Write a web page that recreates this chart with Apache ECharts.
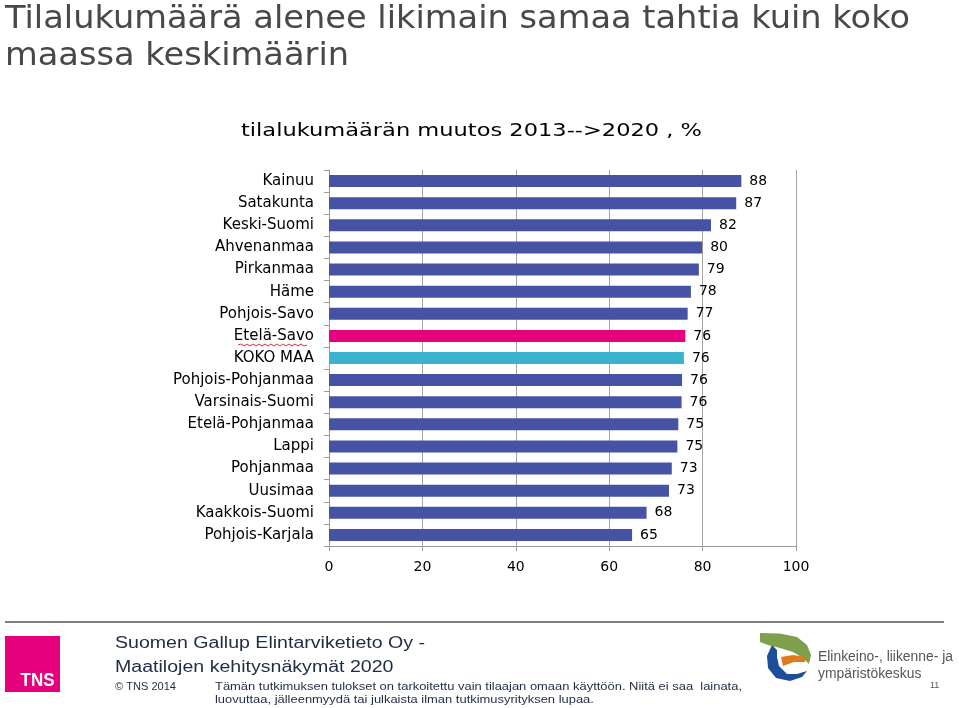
<!DOCTYPE html>
<html><head><meta charset="utf-8">
<script src="https://cdn.jsdelivr.net/npm/echarts@6/dist/echarts.min.js"></script>
<style>html,body{margin:0;padding:0;background:#fff}#c{width:959px;height:708px}</style>
</head><body><div id="c"></div>
<script>
const categories = ["Kainuu","Satakunta","Keski-Suomi","Ahvenanmaa","Pirkanmaa","Häme","Pohjois-Savo","Etelä-Savo","KOKO MAA","Pohjois-Pohjanmaa","Varsinais-Suomi","Etelä-Pohjanmaa","Lappi","Pohjanmaa","Uusimaa","Kaakkois-Suomi","Pohjois-Karjala"];
const values = [88.3, 87.2, 81.8, 79.9, 79.2, 77.5, 76.8, 76.3, 76.0, 75.6, 75.5, 74.8, 74.6, 73.4, 72.8, 68.0, 64.9];
const xTicks = [0, 20, 40, 60, 80, 100];
const highlight = {"Etelä-Savo": "#E6007E", "KOKO MAA": "#3BB3CE"};
const baseColor = "#4653A5";

const chart = echarts.init(document.getElementById('c'));
const dv = '"DejaVu Sans",sans-serif';
const sans = '"Liberation Sans",Arial,sans-serif';
const mctx = document.createElement('canvas').getContext('2d');
function measure(text, size, fam, weight) {
  mctx.font = (weight ? weight + ' ' : '') + size + 'px ' + fam;
  return mctx.measureText(text).width;
}
// text with visual baseline at by, stretched to a target width
function T(x, by, text, size, fam, fill, target, opts) {
  opts = opts || {};
  const w = measure(opts.ref || text, size, fam, opts.weight);
  const sx = target ? target / w : 1;
  return {type: 'text', x: x, y: by - 0.3 * size, scaleX: sx, z: 10,
    style: {text: text, fontSize: size, fontFamily: fam, fill: fill, fontWeight: opts.weight || 'normal',
      textAlign: opts.align || 'left', textVerticalAlign: 'middle', verticalAlign: 'middle'}};
}
const l1 = 'Tilalukumäärä alenee likimain samaa tahtia kuin koko';
const f1 = 'Suomen Gallup Elintarviketieto Oy -';
const d1 = 'Tämän tutkimuksen tulokset on tarkoitettu vain tilaajan omaan käyttöön. Niitä ei saa  lainata,';
const e1 = 'Elinkeino-, liikenne- ja';

chart.setOption({
  animation: false,
  backgroundColor: '#fff',
  grid: {left: 329, right: 163, top: 170, bottom: 162, containLabel: false},
  xAxis: {
    type: 'value', min: xTicks[0], max: xTicks[xTicks.length-1], interval: 20,
    axisLine: {show: true, lineStyle: {color: '#9a9a9a'}},
    axisTick: {show: true, length: 5, lineStyle: {color: '#9a9a9a'}},
    splitLine: {show: true, lineStyle: {color: '#a5a5a5', width: 1}},
    axisLabel: {color: '#000', fontSize: 14, fontFamily: dv, margin: 14,
      formatter: v => xTicks.includes(v) ? String(v) : ''}
  },
  yAxis: {
    type: 'category', data: categories, inverse: true,
    axisLine: {show: true, lineStyle: {color: '#9a9a9a'}},
    axisTick: {show: true, length: 5, lineStyle: {color: '#9a9a9a'}},
    axisLabel: {color: '#000', fontSize: 15, fontFamily: dv, margin: 15}
  },
  series: [{
    type: 'bar', barWidth: 12,
    data: categories.map((c, i) => ({value: values[i], itemStyle: {color: highlight[c] || baseColor}})),
    label: {show: true, position: 'right', distance: 8, color: '#000', fontSize: 14, fontFamily: dv,
      formatter: p => Math.round(p.value)}
  }],
  graphic: [
    T(5, 29, l1, 32, dv, '#484848', 905),
    T(5, 66, 'maassa keskimäärin', 32, dv, '#484848', 905, {ref: l1}),
    T(471.5, 136.7, 'tilalukumäärän muutos 2013-->2020 , %', 18, dv, '#000', 461, {align: 'center'}),
    {type: 'polyline', shape: {points: [[238,345],[241,344],[244,346],[247,344],[250,346],[253,344],[256,346],[259,344],[262,346],[265,344],[268,346],[271,344],[274,346],[277,344],[280,346],[283,344],[286,346],[289,344],[292,346],[295,344],[298,346],[301,344],[304,346],[307,345]]}, style: {stroke: '#d33', lineWidth: 1, fill: null}},
    {type: 'line', shape: {x1: 5, y1: 622, x2: 944, y2: 622}, style: {stroke: '#555', lineWidth: 1.5}},
    {type: 'rect', shape: {x: 5, y: 636, width: 55, height: 56}, style: {fill: '#E6007E'}},
    T(20.5, 686, 'TNS', 18, sans, '#fff', 34, {weight: 'bold'}),
    T(115, 648, f1, 16, sans, '#1f2b45', 310),
    T(115, 672, 'Maatilojen kehitysnäkymät 2020', 16, sans, '#1f2b45', 310, {ref: f1}),
    T(115, 690.5, '© TNS 2014', 11, sans, '#1f2b45', 61),
    T(215, 690.5, d1, 11, sans, '#1f2b45', 527),
    T(215, 703, 'luovuttaa, jälleenmyydä tai julkaista ilman tutkimusyrityksen lupaa.', 11, sans, '#1f2b45', 527, {ref: d1}),
    {type: 'polygon', shape: {points: [[760,633],[780,633.5],[797,637],[807,645],[811,655],[809,664],[803,658],[793,652],[780,648],[768,645],[760,642]]}, style: {fill: '#7FA04A'}},
    {type: 'polygon', shape: {points: [[781,657],[793,655],[805,657],[805,662],[794,662],[783,666]]}, style: {fill: '#E07A1F'}},
    {type: 'polygon', shape: {points: [[772,645],[767,656],[768,668],[776,678],[790,681],[802,677],[807,671],[797,674],[787,674],[779,666],[777,657],[777,650]]}, style: {fill: '#1E4E9A'}},
    T(818, 661.7, e1, 15.5, sans, '#555', 135),
    T(818, 678, 'ympäristökeskus', 15.5, sans, '#555', 135, {ref: e1}),
    T(930, 688, '11', 9, sans, '#555', 0)
  ]
});
</script></body></html>
